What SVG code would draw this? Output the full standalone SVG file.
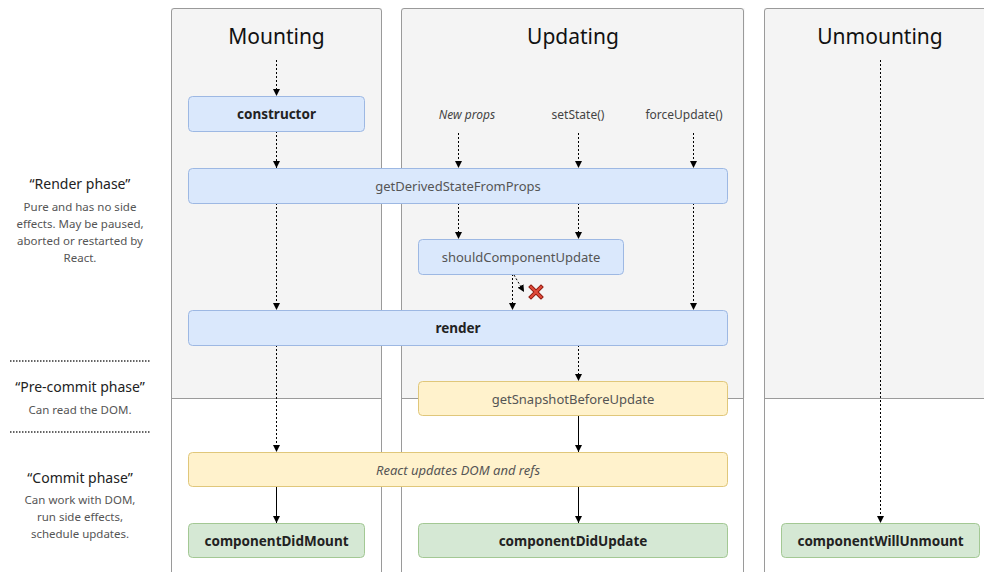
<svg xmlns="http://www.w3.org/2000/svg" width="984" height="572" viewBox="0 0 984 572">
<defs>
<marker id="ah" viewBox="0 0 10 10" refX="10" refY="5" markerWidth="7" markerHeight="7" orient="auto" markerUnits="userSpaceOnUse"><path d="M0,0 L10,5 L0,10 z" fill="#000"/></marker>
</defs>
<style>
text{font-family:"Noto Sans","Open Sans","Liberation Sans",sans-serif;}
.panel{fill:#f4f4f4;}
.pb{fill:none;stroke:#9a9a9a;stroke-width:1;}
.title{font-size:21px;fill:#111;text-anchor:middle;}
.blue{fill:#dae8fc;stroke:#9db8e3;stroke-width:1;}
.yellow{fill:#fff2cc;stroke:#e0c77a;stroke-width:1;}
.green{fill:#d5e8d4;stroke:#a3c894;stroke-width:1;}
.nt{font-size:13px;fill:#555;text-anchor:middle;}
.bt{font-size:13.5px;fill:#222;text-anchor:middle;font-weight:bold;}
.it{font-style:italic;}
.lbl{font-size:12px;fill:#444;text-anchor:middle;}
.ph{font-size:14px;fill:#222;text-anchor:middle;}
.pd{font-size:11.5px;fill:#555;text-anchor:middle;}
.dash{stroke:#000;stroke-width:1;stroke-dasharray:2,2;fill:none;}
.solid{stroke:#000;stroke-width:1;fill:none;}
.dots{stroke:#333;stroke-width:1.5;stroke-dasharray:1.5,1.5;}
</style>
<rect width="984" height="572" fill="#fff"/>
<g id="panels">
<rect class="panel" x="171" y="8" width="211" height="390"/>
<rect class="panel" x="401.5" y="8" width="343" height="390"/>
<rect class="panel" x="764" y="8" width="230" height="390"/>
<path class="pb" d="M171.5,580 V11 Q171.5,8.5 174,8.5 H379 Q381.5,8.5 381.5,11 V580"/>
<path class="pb" d="M401.5,580 V11 Q401.5,8.5 404,8.5 H741 Q743.5,8.5 743.5,11 V580"/>
<path class="pb" d="M764.5,580 V11 Q764.5,8.5 767,8.5 H1000"/>
<line x1="171.5" y1="398.5" x2="381.5" y2="398.5" stroke="#9a9a9a"/>
<line x1="401.5" y1="398.5" x2="743.5" y2="398.5" stroke="#9a9a9a"/>
<line x1="764.5" y1="398.5" x2="984" y2="398.5" stroke="#9a9a9a"/>
<text class="title" x="276.5" y="44">Mounting</text>
<text class="title" x="573" y="44">Updating</text>
<text class="title" x="880" y="44">Unmounting</text>
</g>
<g id="phases">
<text class="ph" x="80" y="189">“Render phase”</text>
<text class="pd" x="80" y="211">Pure and has no side</text>
<text class="pd" x="80" y="228">effects. May be paused,</text>
<text class="pd" x="80" y="245">aborted or restarted by</text>
<text class="pd" x="80" y="262">React.</text>
<line class="dots" x1="10" y1="361" x2="151" y2="361"/>
<text class="ph" x="80" y="392">“Pre-commit phase”</text>
<text class="pd" x="80" y="414">Can read the DOM.</text>
<line class="dots" x1="10" y1="432" x2="151" y2="432"/>
<text class="ph" x="80" y="483">“Commit phase”</text>
<text class="pd" x="80" y="504">Can work with DOM,</text>
<text class="pd" x="80" y="521">run side effects,</text>
<text class="pd" x="80" y="538">schedule updates.</text>
</g>
<g id="triggers">
<text class="lbl it" x="467" y="119">New props</text>
<text class="lbl" x="578" y="119">setState()</text>
<text class="lbl" x="684" y="119">forceUpdate()</text>
</g>
<g id="connectors">
<line class="dash" x1="276.5" y1="60" x2="276.5" y2="96" marker-end="url(#ah)"/>
<line class="dash" x1="276.5" y1="131" x2="276.5" y2="168" marker-end="url(#ah)"/>
<line class="dash" x1="276.5" y1="203" x2="276.5" y2="310" marker-end="url(#ah)"/>
<line class="dash" x1="276.5" y1="345" x2="276.5" y2="452" marker-end="url(#ah)"/>
<line class="solid" x1="276.5" y1="486" x2="276.5" y2="523" marker-end="url(#ah)"/>
<line class="dash" x1="458.5" y1="133" x2="458.5" y2="168" marker-end="url(#ah)"/>
<line class="dash" x1="578.5" y1="133" x2="578.5" y2="168" marker-end="url(#ah)"/>
<line class="dash" x1="693.5" y1="133" x2="693.5" y2="168" marker-end="url(#ah)"/>
<line class="dash" x1="458.5" y1="203" x2="458.5" y2="239" marker-end="url(#ah)"/>
<line class="dash" x1="578.5" y1="203" x2="578.5" y2="239" marker-end="url(#ah)"/>
<line class="dash" x1="693.5" y1="203" x2="693.5" y2="310" marker-end="url(#ah)"/>
<line class="dash" x1="512.5" y1="274" x2="512.5" y2="310" marker-end="url(#ah)"/>
<line class="dash" x1="514" y1="275" x2="524" y2="292" marker-end="url(#ah)"/>
<line class="dash" x1="578.5" y1="345" x2="578.5" y2="381" marker-end="url(#ah)"/>
<line class="solid" x1="578.5" y1="415" x2="578.5" y2="452" marker-end="url(#ah)"/>
<line class="solid" x1="578.5" y1="486" x2="578.5" y2="523" marker-end="url(#ah)"/>
<line class="dash" x1="880.5" y1="60" x2="880.5" y2="523" marker-end="url(#ah)"/>
<g id="cross" stroke-linecap="square">
<path d="M531,287 L541,297 M541,287 L531,297" stroke="#8e1b10" stroke-width="4"/>
<path d="M531,287 L541,297 M541,287 L531,297" stroke="#e04a3a" stroke-width="2.2"/>
</g>
</g>
<g id="constructor"><rect class="blue" x="188.5" y="96.5" width="176" height="35" rx="4"/><text class="bt" x="276.5" y="119">constructor</text></g>
<g id="getDerivedStateFromProps"><rect class="blue" x="188.5" y="168.5" width="539" height="35" rx="4"/><text class="nt" x="458" y="191">getDerivedStateFromProps</text></g>
<g id="shouldComponentUpdate"><rect class="blue" x="418.5" y="239.5" width="205" height="35" rx="4"/><text class="nt" x="521" y="262">shouldComponentUpdate</text></g>
<g id="render"><rect class="blue" x="188.5" y="310.5" width="539" height="35" rx="4"/><text class="bt" x="458" y="333">render</text></g>
<g id="getSnapshotBeforeUpdate"><rect class="yellow" x="418.5" y="381.5" width="309" height="34" rx="4"/><text class="nt" x="573" y="404">getSnapshotBeforeUpdate</text></g>
<g id="reactUpdates"><rect class="yellow" x="188.5" y="452.5" width="539" height="34" rx="4"/><text class="nt it" x="458" y="475">React updates DOM and refs</text></g>
<g id="componentDidMount"><rect class="green" x="188.5" y="523.5" width="176" height="34" rx="4"/><text class="bt" x="276.5" y="546">componentDidMount</text></g>
<g id="componentDidUpdate"><rect class="green" x="418.5" y="523.5" width="309" height="34" rx="4"/><text class="bt" x="573" y="546">componentDidUpdate</text></g>
<g id="componentWillUnmount"><rect class="green" x="781.5" y="523.5" width="198" height="34" rx="4"/><text class="bt" x="880.5" y="546">componentWillUnmount</text></g>
</svg>
